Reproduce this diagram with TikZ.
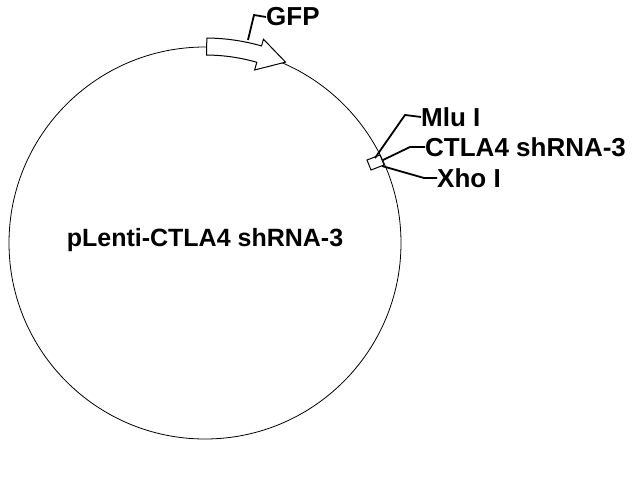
\documentclass[tikz,border=0pt]{standalone}
\usepackage{fontspec}
\setmainfont{Liberation Sans}
\usetikzlibrary{calc}
\begin{document}
\begin{tikzpicture}[x=1pt,y=1pt,
  lbl/.style={font=\bfseries\fontsize{26}{28}\selectfont,anchor=west,inner sep=0pt},
  lead/.style={line width=1.8pt}]
\useasboundingbox (0,0) rectangle (640,480);
\coordinate (c) at (205,237);
\draw[line width=0.8pt] (c) circle (196);
% GFP arrow
\draw[line width=1pt,fill=white]
  ($(c)+(89.5:188)$) arc (89.5:74:188) -- ($(c)+(74:180)$) -- ($(c)+(66:198)$)
  -- ($(c)+(74:212)$) -- ($(c)+(74:205)$) arc (74:89.5:205) -- cycle;
\coordinate (g1) at (248,440);
\coordinate (g2) at (254,465);
\node[lbl] (gfp) at (266,463) {GFP};
\draw[lead] (g1) -- (g2) -- (gfp.west);
% small box
\draw[line width=1pt,fill=white] (367,320) -- (380,325) -- (384,315) -- (371,310) -- cycle;
\coordinate (b1) at (375,322);
\coordinate (b2) at (383,320);
\coordinate (b3) at (382,314);
\node[lbl] (mlu) at (421,363) {Mlu I};
\node[lbl] (ctla) at (425,333) {CTLA4 shRNA-3};
\node[lbl] (xho) at (437,302) {Xho I};
\draw[lead] (b1) -- (405,365) -- (mlu.west);
\draw[lead] (b2) -- (410,333) -- (ctla.west);
\draw[lead] (b3) -- (424,302) -- (xho.west);
\node[font=\bfseries\fontsize{25}{27}\selectfont] (name) at (205,240) {pLenti-CTLA4 shRNA-3};
\end{tikzpicture}
\end{document}
